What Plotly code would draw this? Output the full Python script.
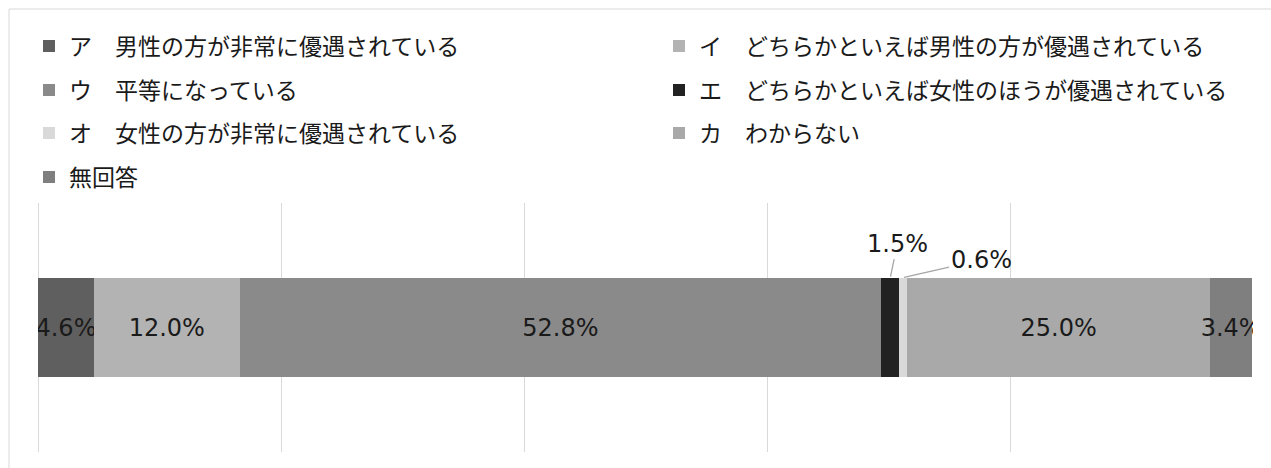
import plotly.graph_objects as go

# Survey response shares (%), one stacked horizontal bar
labels = [
    "ア　男性の方が非常に優遇されている",
    "イ　どちらかといえば男性の方が優遇されている",
    "ウ　平等になっている",
    "エ　どちらかといえば女性のほうが優遇されている",
    "オ　女性の方が非常に優遇されている",
    "カ　わからない",
    "無回答",
]
values = [4.6, 12.0, 52.8, 1.5, 0.6, 25.0, 3.4]
colors = ["#5f5f5f", "#b3b3b3", "#8a8a8a", "#222222", "#d9d9d9", "#a9a9a9", "#7f7f7f"]
# small segments get callout labels instead of inside text
callout = [False, False, False, True, True, False, False]

FONT = "Noto Sans CJK JP"
NUM_FONT = "DejaVu Sans, Noto Sans CJK JP"
W, H = 1271, 468
ML, MR, MT, MB = 38, 18, 203, 16
PW, PH = W - ML - MR, H - MT - MB


def px_x(p):
    return (p - ML) / PW


def px_y(p):
    return (H - MB - p) / PH


# legend laid out in two columns, one legend box per entry
legend_cols = [29, 659]
legend_rows = [46, 90, 133, 177]

fig = go.Figure()
legend_layout = {}
for i, (lab, v, c, co) in enumerate(zip(labels, values, colors, callout)):
    lg = "legend" if i == 0 else f"legend{i + 1}"
    legend_layout[lg] = dict(
        x=px_x(legend_cols[i % 2]), y=px_y(legend_rows[i // 2]),
        xanchor="left", yanchor="middle", orientation="h",
        bgcolor="rgba(0,0,0,0)", itemclick=False, itemdoubleclick=False,
        font=dict(family=FONT, size=23, color="#1a1a1a"),
    )
    fig.add_trace(go.Bar(
        y=[0], x=[v / 100], name=lab, orientation="h",
        width=0.4,
        marker=dict(color=c, line=dict(width=0)),
        text=["" if co else f"{v:.1f}%"],
        textposition="inside", insidetextanchor="middle", textangle=0,
        insidetextfont=dict(family=NUM_FONT, size=24, color="#1a1a1a"),
        legend=lg, hoverinfo="skip",
    ))

# callout labels for the thin segments
cum = 0.0
offsets = {3: (7, -34), 4: (78, -18)}
for i, v in enumerate(values):
    if callout[i]:
        ax, ay = offsets[i]
        fig.add_annotation(
            x=(cum + v / 2) / 100, y=0.2, xref="x", yref="y",
            text=f"{v:.1f}%", showarrow=True, arrowhead=0,
            arrowcolor="#a6a6a6", arrowwidth=1.3, ax=ax, ay=ay, standoff=1,
            font=dict(family=NUM_FONT, size=24, color="#1a1a1a"),
        )
    cum += v

fig.update_layout(
    width=W, height=H,
    margin=dict(l=ML, r=MR, t=MT, b=MB),
    paper_bgcolor="white", plot_bgcolor="white",
    barmode="stack",
    showlegend=True,
    uniformtext=dict(minsize=24, mode="show"),
    xaxis=dict(range=[0, 1], dtick=0.2, showticklabels=False, showgrid=True,
               gridcolor="#d9d9d9", gridwidth=1, zeroline=True,
               zerolinecolor="#d9d9d9", zerolinewidth=1, showline=False, ticks=""),
    yaxis=dict(range=[-0.5, 0.5], showticklabels=False, showgrid=False,
               zeroline=False, showline=False, ticks=""),
    shapes=[dict(type="rect", xref="paper", yref="paper",
                 x0=px_x(9), x1=px_x(W + 20), y0=px_y(H + 20), y1=px_y(9),
                 line=dict(color="#d9d9d9", width=1), layer="below")],
    font=dict(family=FONT),
    **legend_layout,
)

fig.write_html("out.html")
